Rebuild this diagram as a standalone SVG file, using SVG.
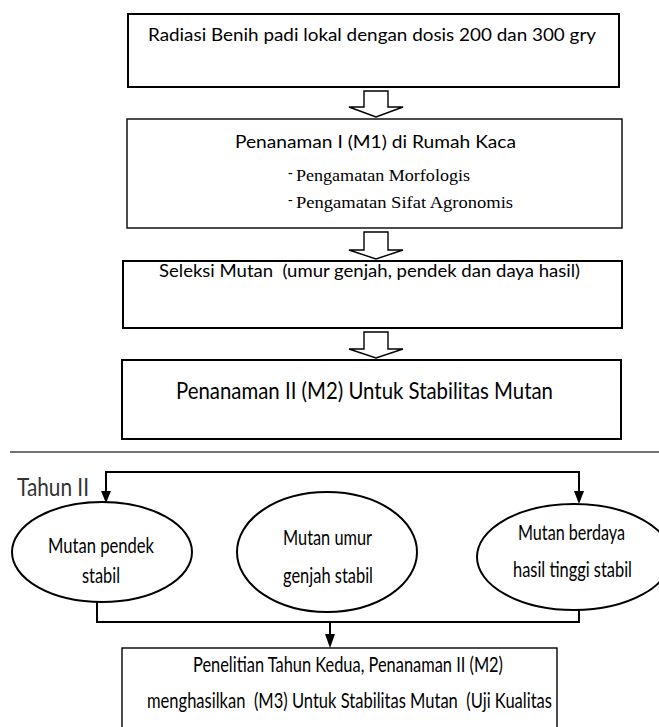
<svg xmlns="http://www.w3.org/2000/svg" width="659" height="727" viewBox="0 0 659 727">
<style>
.box{fill:#fff;stroke:#000;stroke-width:2}
.thin{stroke-width:1.4}
.harrow{fill:#fff;stroke:#000;stroke-width:1.4;stroke-linejoin:miter}
.ell{fill:#fff;stroke:#000;stroke-width:2}
.t{font-family:Lato,"Open Sans","Liberation Sans",sans-serif;fill:#000;white-space:pre}
.s{font-family:"Liberation Serif","Times New Roman",serif;fill:#000;white-space:pre}
.con{fill:none;stroke:#000;stroke-width:2}
.head{fill:#000}
</style>
<rect width="659" height="727" fill="#fff"/>

<g id="node-radiasi">
<rect class="box" x="128" y="14" width="491" height="73"/>
<text class="t" x="148" y="41" font-size="17" textLength="448" lengthAdjust="spacingAndGlyphs">Radiasi Benih padi lokal dengan dosis 200 dan 300 gry</text>
</g>

<g id="node-penanaman1">
<rect class="box thin" x="127" y="119" width="495" height="109"/>
<text class="t" x="235" y="148" font-size="17" textLength="281" lengthAdjust="spacingAndGlyphs">Penanaman I (M1) di Rumah Kaca</text>
<text class="s" x="288" y="177" font-size="14">-</text>
<text class="s" x="296" y="181" font-size="16" textLength="174" lengthAdjust="spacingAndGlyphs">Pengamatan Morfologis</text>
<text class="s" x="288" y="204" font-size="14">-</text>
<text class="s" x="296" y="208" font-size="16" textLength="217" lengthAdjust="spacingAndGlyphs">Pengamatan Sifat Agronomis</text>
</g>

<g id="node-seleksi">
<rect class="box" x="123" y="261" width="499" height="67" stroke-width="2.4"/>
<text class="t" x="159" y="277" font-size="18" textLength="421" lengthAdjust="spacingAndGlyphs">Seleksi Mutan  (umur genjah, pendek dan daya hasil)</text>
</g>

<g id="node-penanaman2">
<rect class="box" x="122" y="360" width="499" height="79" stroke-width="2.4"/>
<text class="t" x="176" y="399" font-size="23" textLength="377" lengthAdjust="spacingAndGlyphs">Penanaman II (M2) Untuk Stabilitas Mutan</text>
</g>

<g id="separator">
<line x1="10" y1="452" x2="659" y2="452" stroke="#444" stroke-width="1.5"/>
<text class="t" x="17" y="496" font-size="25" style="fill:#333" textLength="72" lengthAdjust="spacingAndGlyphs">Tahun II</text>
</g>

<g id="node-pendek">
<ellipse class="ell" cx="102" cy="552" rx="90" ry="50"/>
<text class="t" x="48" y="553" font-size="22" textLength="106" lengthAdjust="spacingAndGlyphs">Mutan pendek</text>
<text class="t" x="82" y="583" font-size="22" textLength="38" lengthAdjust="spacingAndGlyphs">stabil</text>
</g>

<g id="node-umur">
<ellipse class="ell" cx="327" cy="552" rx="90" ry="60"/>
<text class="t" x="283" y="545" font-size="22" textLength="89" lengthAdjust="spacingAndGlyphs">Mutan umur</text>
<text class="t" x="283" y="583" font-size="22" textLength="90" lengthAdjust="spacingAndGlyphs">genjah stabil</text>
</g>

<g id="node-hasil">
<ellipse class="ell" cx="574" cy="557" rx="97" ry="53"/>
<text class="t" x="518" y="540" font-size="22" textLength="107" lengthAdjust="spacingAndGlyphs">Mutan berdaya</text>
<text class="t" x="513" y="577" font-size="22" textLength="119" lengthAdjust="spacingAndGlyphs">hasil tinggi stabil</text>
</g>

<g id="node-penelitian">
<rect class="box thin" x="122" y="648" width="435" height="100"/>
<text class="t" x="193" y="672" font-size="21" textLength="310" lengthAdjust="spacingAndGlyphs">Penelitian Tahun Kedua, Penanaman II (M2)</text>
<text class="t" x="147" y="708" font-size="21" textLength="405" lengthAdjust="spacingAndGlyphs">menghasilkan  (M3) Untuk Stabilitas Mutan  (Uji Kualitas</text>
</g>

<g id="connectors">
<path class="harrow" d="M364,91 H388 V107 H403 L376,117 L349,107 H364 Z"/>
<path class="harrow" d="M364,232 H388 V250 H403 L376,259 L349,250 H364 Z"/>
<path class="harrow" d="M364,332 H388 V349 H403 L376,358 L349,349 H364 Z"/>
<path class="con" d="M106,493 V472 H579 V492"/>
<polygon class="head" points="101,491 111,491 106,503"/>
<polygon class="head" points="574,491 584,491 579,504"/>
<path class="con" d="M97,602 V622 H579 V610"/>
<path class="con" d="M330,622 V636"/>
<polygon class="head" points="325,634 335,634 330,648"/>
</g>
</svg>
